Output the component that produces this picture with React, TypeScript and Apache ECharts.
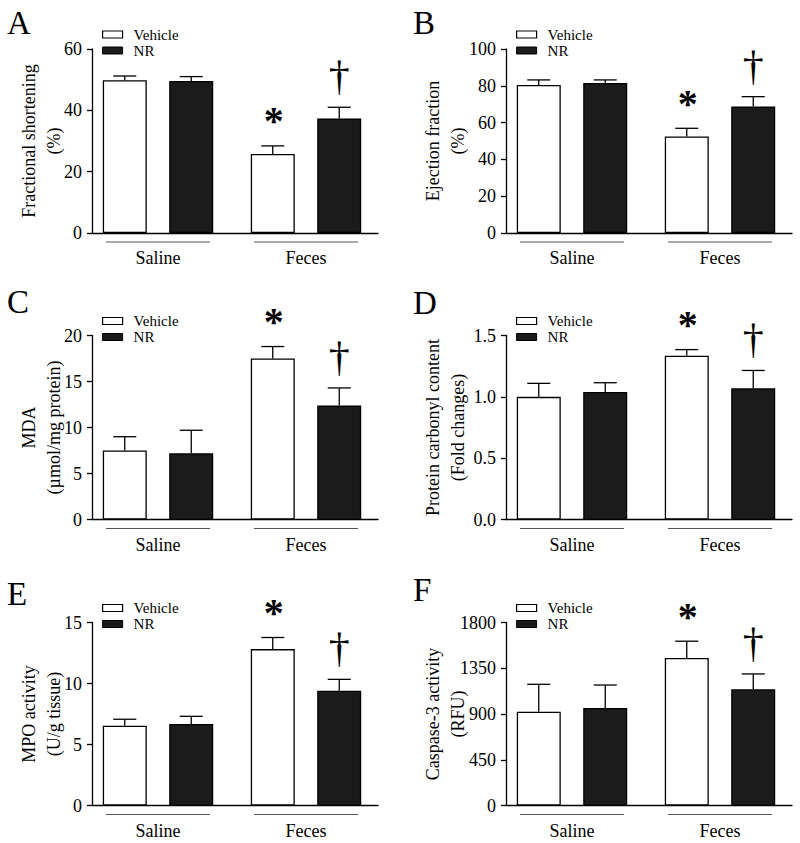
import React, { useEffect, useRef } from 'react';
import * as echarts from 'echarts';

// ---------- data ----------
const groups = ['Saline', 'Feces'];
const seriesNames = ['Vehicle', 'NR'];
const panelLetters = ['A', 'B', 'C', 'D', 'E', 'F'];
const yTitles = [
  'Fractional shortening\n(%)',
  'Ejection fraction\n(%)',
  'MDA\n(µmol/mg protein)',
  'Protein carbonyl content\n(Fold changes)',
  'MPO activity\n(U/g tissue)',
  'Caspase-3 activity\n(RFU)',
];
const yMax = [60, 100, 20, 1.5, 15, 1800];
const yInterval = [20, 20, 5, 0.5, 5, 450];
const yDecimals = [0, 0, 0, 1, 0, 0];

const vehicleMean = [
  [49.8, 25.8],
  [80.4, 52.5],
  [7.5, 17.5],
  [1.0, 1.335],
  [6.54, 12.82],
  [922, 1451],
];
const vehicleSem = [
  [1.4, 2.6],
  [2.8, 4.4],
  [1.5, 1.3],
  [0.11, 0.05],
  [0.53, 0.95],
  [270, 165],
];
const nrMean = [
  [49.6, 37.3],
  [81.5, 68.8],
  [7.2, 12.4],
  [1.04, 1.07],
  [6.68, 9.41],
  [959, 1143],
];
const nrSem = [
  [1.4, 3.7],
  [1.7, 5.3],
  [2.5, 1.9],
  [0.075, 0.145],
  [0.63, 0.93],
  [226, 151],
];
const vehicleMarks = [
  ['', '*'],
  ['', '*'],
  ['', '*'],
  ['', '*'],
  ['', '*'],
  ['', '*'],
];
const nrMarks = [
  ['', '†'],
  ['', '†'],
  ['', '†'],
  ['', '†'],
  ['', '†'],
  ['', '†'],
];

// ---------- layout ----------
const FONT = '"Liberation Serif", "Times New Roman", serif';
const colX = [92, 506];
const rowTop = [49, 335.5, 622.5];
const rowH = [184, 184, 183];
const plotW = 286;
const nameGaps = [26, 36];
const letterPos = [
  [7, 38],
  [413, 38],
  [7, 317],
  [413, 318],
  [7, 609],
  [413, 605],
];
const BAR_OFF = 33.25;

export default function App() {
  const ref = useRef<HTMLDivElement>(null);

  useEffect(() => {
    if (!ref.current) return;
    const chart = echarts.init(ref.current, undefined, { renderer: 'svg' });

    const grid: any[] = [];
    const xAxis: any[] = [];
    const yAxis: any[] = [];
    const series: any[] = [];
    const legend: any[] = [];
    const graphic: any[] = [];

    for (let p = 0; p < 6; p++) {
      const col = p % 2;
      const row = Math.floor(p / 2);
      const ax = colX[col];
      const top = rowTop[row];
      const h = rowH[row];
      const fi = 2 * p; // frame grid
      const bi = 2 * p + 1; // bars grid

      grid.push({ left: ax, top, width: plotW, height: h, containLabel: false });
      grid.push({ left: ax - 8, top, width: 296, height: h, containLabel: false });

      xAxis.push({
        gridIndex: fi,
        type: 'category',
        data: groups,
        axisLine: { show: true, lineStyle: { color: '#000', width: 1.3 } },
        axisTick: { show: false },
        axisLabel: { show: false },
        splitLine: { show: false },
      });
      xAxis.push({
        gridIndex: bi,
        type: 'category',
        data: groups,
        axisLine: { show: false },
        axisTick: { show: false },
        axisLabel: {
          show: true,
          margin: 16,
          fontFamily: FONT,
          fontSize: 18,
          color: '#000',
        },
        splitLine: { show: false },
      });

      const dec = yDecimals[p];
      yAxis.push({
        gridIndex: fi,
        type: 'value',
        min: 0,
        max: yMax[p],
        interval: yInterval[p],
        name: yTitles[p],
        nameLocation: 'middle',
        nameRotate: 90,
        nameGap: nameGaps[col],
        nameMoveOverlap: false,
        nameTextStyle: {
          fontFamily: FONT,
          fontSize: 18,
          lineHeight: 25,
          color: '#000',
        },
        axisLine: { show: true, lineStyle: { color: '#000', width: 1.3 } },
        axisTick: { show: true, length: 5, lineStyle: { color: '#000', width: 1.3 } },
        axisLabel: {
          margin: 10,
          fontFamily: FONT,
          fontSize: 18,
          color: '#000',
          formatter: (v: number) => v.toFixed(dec),
        },
        splitLine: { show: false },
      });
      yAxis.push({
        gridIndex: bi,
        type: 'value',
        min: 0,
        max: yMax[p],
        interval: yInterval[p],
        show: false,
      });

      series.push({
        type: 'bar',
        name: seriesNames[0],
        xAxisIndex: bi,
        yAxisIndex: bi,
        data: vehicleMean[p],
        barWidth: 44,
        barGap: '51%',
        itemStyle: { color: '#ffffff', borderColor: '#000', borderWidth: 1.3 },
        z: 2,
      });
      series.push({
        type: 'bar',
        name: seriesNames[1],
        xAxisIndex: bi,
        yAxisIndex: bi,
        data: nrMean[p],
        barWidth: 44,
        barGap: '51%',
        itemStyle: { color: '#1b1b1b', borderColor: '#000', borderWidth: 1.3 },
        z: 2,
      });

      const errData: number[][] = [];
      const marks: string[] = [];
      for (let g = 0; g < 2; g++) {
        errData.push([g, vehicleMean[p][g], vehicleSem[p][g], 0]);
        marks.push(vehicleMarks[p][g]);
      }
      for (let g = 0; g < 2; g++) {
        errData.push([g, nrMean[p][g], nrSem[p][g], 1]);
        marks.push(nrMarks[p][g]);
      }

      series.push({
        type: 'custom',
        name: 'err' + p,
        xAxisIndex: bi,
        yAxisIndex: bi,
        clip: false,
        z: 5,
        data: errData,
        encode: { x: 0, y: 1 },
        renderItem: (params: any, api: any) => {
          const g = api.value(0);
          const m = api.value(1);
          const s = api.value(2);
          const k = api.value(3);
          const base = api.coord([g, m]);
          const tp = api.coord([g, m + s]);
          const x = base[0] + (k === 0 ? -BAR_OFF : BAR_OFF);
          const st = { stroke: '#000', lineWidth: 1.3 };
          const children: any[] = [
            { type: 'line', shape: { x1: x, y1: base[1], x2: x, y2: tp[1] }, style: st },
            { type: 'line', shape: { x1: x - 11.5, y1: tp[1], x2: x + 11.5, y2: tp[1] }, style: st },
          ];
          const mk = marks[params.dataIndex];
          if (mk === '*') {
            children.push({
              type: 'text',
              style: {
                text: '*',
                x: x + 1,
                y: tp[1] - 25,
                align: 'center',
                verticalAlign: 'middle',
                fontFamily: FONT,
                fontSize: 40,
                fontWeight: 'bold',
                fill: '#000',
              },
            });
          } else if (mk === '†') {
            children.push({
              type: 'text',
              style: {
                text: '†',
                x,
                y: tp[1] - 31,
                align: 'center',
                verticalAlign: 'middle',
                fontFamily: FONT,
                fontSize: 42,
                fill: '#000',
              },
            });
          }
          return { type: 'group', children };
        },
      });

      legend.push({
        left: ax + 10,
        top: top - 22.5,
        orient: 'vertical',
        padding: 0,
        itemWidth: 20,
        itemHeight: 7,
        itemGap: 0,
        icon: 'rect',
        selectedMode: false,
        data: [
          { name: seriesNames[0], itemStyle: { color: '#fff', borderColor: '#000', borderWidth: 1.2 } },
          { name: seriesNames[1], itemStyle: { color: '#1b1b1b', borderColor: '#000', borderWidth: 1 } },
        ],
        textStyle: {
          fontFamily: FONT,
          fontSize: 15,
          lineHeight: 16,
          color: '#000',
          padding: [0, 0, 0, 6],
        },
      });

      graphic.push({
        type: 'text',
        left: letterPos[p][0],
        top: letterPos[p][1] - 32,
        style: { text: panelLetters[p], fontFamily: FONT, fontSize: 33, fill: '#000' },
      });
    }

    chart.setOption({
      animation: false,
      backgroundColor: '#fff',
      grid,
      xAxis,
      yAxis,
      series,
      legend,
      graphic,
    });

    // group underlines below each x axis, placed with the bars' category scale
    const lines: any[] = [];
    for (let p = 0; p < 6; p++) {
      const row = Math.floor(p / 2);
      const y = rowTop[row] + rowH[row] + 9;
      for (let g = 0; g < groups.length; g++) {
        const px = chart.convertToPixel({ xAxisIndex: 2 * p + 1 }, groups[g]) as number;
        lines.push({
          type: 'line',
          shape: { x1: px - 52, y1: y, x2: px + 52, y2: y },
          style: { stroke: '#555', lineWidth: 1 },
        });
      }
    }
    chart.setOption({ graphic: [...graphic, ...lines] });

    return () => chart.dispose();
  }, []);

  return (
    <div
      ref={ref}
      style={{ position: 'fixed', left: 0, top: 0, width: 800, height: 843, background: '#fff' }}
    />
  );
}
